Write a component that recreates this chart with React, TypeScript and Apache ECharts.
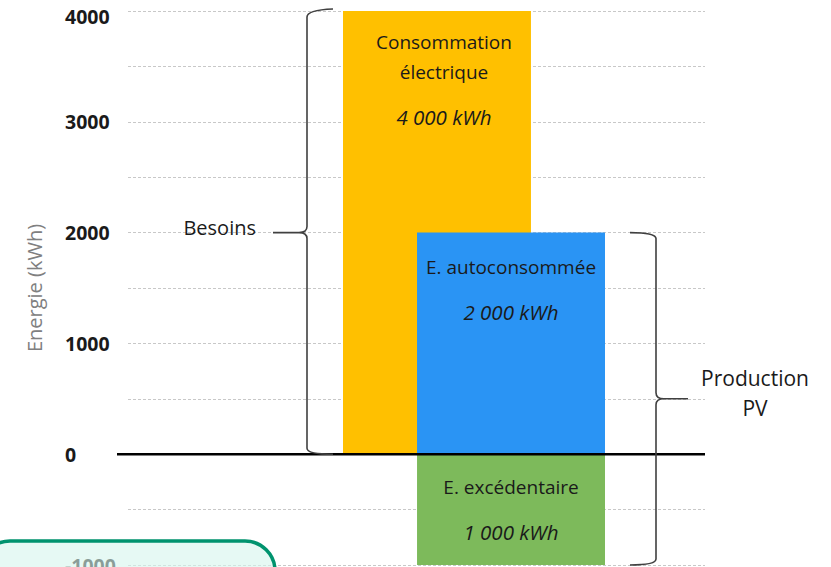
import React, { useEffect, useRef } from "react";
import * as echarts from "echarts";

// Annual energy balance of a PV installation (kWh)
const categories = ["Bilan"];
const consumption = [4000];
const selfConsumed = [2000];
const surplus = [-1000];

const axisMin = -1000;
const axisMax = 4000;
const axisStep = 500;
const axisTitle = "Energie (kWh)";

const consumptionLines = ["Consommation", "électrique"];
const selfConsumedLines = ["E. autoconsommée"];
const surplusLines = ["E. excédentaire"];
const braceLabels = ["Besoins", "Production\nPV"];
const unit = "kWh";

const FONT = "'Open Sans', 'Noto Sans', sans-serif";
const TEXT = "#1a1a1a";

const fmt = (v: number) =>
  String(Math.abs(v)).replace(/\B(?=(\d{3})+(?!\d))/g, " ");

const richStyles = {
  t: { fontSize: 19, lineHeight: 30, color: TEXT, fontFamily: FONT },
  v: {
    fontSize: 20.5,
    lineHeight: 60,
    color: TEXT,
    fontFamily: FONT,
    fontStyle: "italic",
  },
};

const makeLabel = (lines: string[], distance: number, offsetX: number) => ({
  show: true,
  position: "insideTop",
  distance,
  offset: [offsetX, 0],
  color: TEXT,
  formatter: (p: any) =>
    lines.map((l) => `{t|${l}}`).join("\n") + `\n{v|${fmt(p.value)} ${unit}}`,
  rich: richStyles,
});

// Braces: [x placeholder, low value, high value, side (0 = left, 1 = right)]
const braceData = [
  [0, 0, consumption[0], 0],
  [0, surplus[0], selfConsumed[0], 1],
];

function bracePath(side: number, yTop: number, yBot: number, yMid: number) {
  if (side === 0) {
    const xv = 307;
    const xh = 333;
    const xt = 273;
    return (
      `M${xh} ${yTop - 2} Q${xv} ${yTop - 1} ${xv} ${yTop + 6} L${xv} ${yMid - 6} ` +
      `Q${xv} ${yMid} ${xv - 8} ${yMid} L${xt} ${yMid} ` +
      `M${xv - 8} ${yMid} Q${xv} ${yMid} ${xv} ${yMid + 6} L${xv} ${yBot - 6} ` +
      `Q${xv} ${yBot} ${xh} ${yBot}`
    );
  }
  const xv = 656;
  const xh = 630;
  const xt = 688;
  return (
    `M${xh} ${yTop} Q${xv} ${yTop} ${xv} ${yTop + 6} L${xv} ${yMid - 6} ` +
    `Q${xv} ${yMid} ${xv + 8} ${yMid} L${xt} ${yMid} ` +
    `M${xv + 8} ${yMid} Q${xv} ${yMid} ${xv} ${yMid + 6} L${xv} ${yBot - 6} ` +
    `Q${xv} ${yBot} ${xh} ${yBot}`
  );
}

export default function App() {
  const ref = useRef<HTMLDivElement>(null);

  useEffect(() => {
    if (!ref.current) return;
    const chart = echarts.init(ref.current, undefined, { renderer: "svg" });

    const option: any = {
      animation: false,
      backgroundColor: "#ffffff",
      textStyle: { fontFamily: FONT },
      grid: [
        { left: 128, right: 126, top: 11, bottom: 2, outerBoundsMode: "none" },
        { left: 343, right: 226, top: 11, bottom: 2, outerBoundsMode: "none" },
      ],
      xAxis: [
        {
          type: "category",
          gridIndex: 0,
          data: categories,
          show: false,
        },
        {
          type: "category",
          gridIndex: 1,
          data: categories,
          show: false,
        },
      ],
      yAxis: [
        {
          type: "value",
          gridIndex: 0,
          min: axisMin,
          max: axisMax,
          interval: axisStep,
          axisLine: { show: false },
          axisTick: { show: false },
          splitLine: {
            show: true,
            lineStyle: { color: "#c8c8c8", width: 1, type: [3, 2] },
          },
          axisLabel: {
            align: "left",
            margin: 63,
            formatter: (v: number) =>
              v % 1000 !== 0 ? "" : v === axisMax ? `{m|${v}}` : `{n|${v}}`,
            rich: {
              n: {
                fontSize: 19.5,
                fontWeight: "bold",
                color: TEXT,
                fontFamily: FONT,
              },
              m: {
                fontSize: 19.5,
                fontWeight: "bold",
                color: TEXT,
                fontFamily: FONT,
                padding: [10, 0, 0, 0],
              },
            },
          },
          name: axisTitle,
          nameLocation: "middle",
          nameGap: 84,
          nameTextStyle: { color: "#808080", fontSize: 20, fontFamily: FONT },
        },
        {
          type: "value",
          gridIndex: 1,
          min: axisMin,
          max: axisMax,
          show: false,
          splitLine: { show: false },
        },
      ],
      series: [
        {
          type: "bar",
          xAxisIndex: 1,
          yAxisIndex: 1,
          data: consumption,
          barWidth: 188,
          barGap: "-60.6%",
          itemStyle: { color: "#FFC000" },
          label: makeLabel(consumptionLines, 16, 7),
        },
        {
          type: "bar",
          xAxisIndex: 1,
          yAxisIndex: 1,
          stack: "pv",
          data: selfConsumed,
          barWidth: 188,
          itemStyle: { color: "#2A94F4" },
          label: makeLabel(selfConsumedLines, 19, 0),
        },
        {
          type: "bar",
          xAxisIndex: 1,
          yAxisIndex: 1,
          stack: "pv",
          data: surplus,
          barWidth: 188,
          itemStyle: { color: "#7DBA5B" },
          label: makeLabel(surplusLines, 18, 0),
        },
        {
          // zero line, drawn past the left edge of the grid
          type: "custom",
          xAxisIndex: 0,
          yAxisIndex: 0,
          z: 5,
          data: [[0, 0]],
          encode: { x: 0, y: 1 },
          renderItem: (params: any, api: any) => {
            const y = api.coord([0, api.value(1)])[1];
            const cs = params.coordSys;
            return {
              type: "line",
              shape: { x1: cs.x - 11, y1: y, x2: cs.x + cs.width, y2: y },
              style: { stroke: "#000000", lineWidth: 2.5 },
            };
          },
        },
        {
          // curly braces grouping the energies
          type: "custom",
          xAxisIndex: 0,
          yAxisIndex: 0,
          z: 6,
          data: braceData,
          encode: { x: 0, y: [1, 2] },
          renderItem: (params: any, api: any) => {
            const low = api.value(1);
            const high = api.value(2);
            const side = api.value(3);
            const yBot = api.coord([0, low])[1];
            const yTop = api.coord([0, high])[1];
            const yMid = api.coord([0, (low + high) / 2])[1];
            const label = braceLabels[params.dataIndex];
            return {
              type: "group",
              children: [
                {
                  type: "path",
                  shape: { pathData: bracePath(side, yTop, yBot, yMid) },
                  style: { stroke: "#404040", lineWidth: 1.6, fill: null },
                },
                {
                  type: "text",
                  x: side === 0 ? 256 : 755,
                  y: side === 0 ? yMid - 5 : yMid - 6,
                  style: {
                    text: label,
                    fill: TEXT,
                    fontSize: side === 0 ? 20 : 21,
                    fontFamily: FONT,
                    lineHeight: 30,
                    align: side === 0 ? "right" : "center",
                    verticalAlign: "middle",
                  },
                },
              ],
            };
          },
        },
      ],
      graphic: [
        {
          type: "rect",
          z: 100,
          shape: { x: -20, y: 541, width: 295, height: 60, r: 42 },
          style: {
            fill: "rgba(214,245,236,0.6)",
            stroke: "#00936E",
            lineWidth: 3.5,
          },
        },
      ],
    };

    chart.setOption(option);
    return () => chart.dispose();
  }, []);

  return (
    <div
      ref={ref}
      style={{ position: "fixed", left: 0, top: 0, width: 831, height: 567 }}
    />
  );
}
